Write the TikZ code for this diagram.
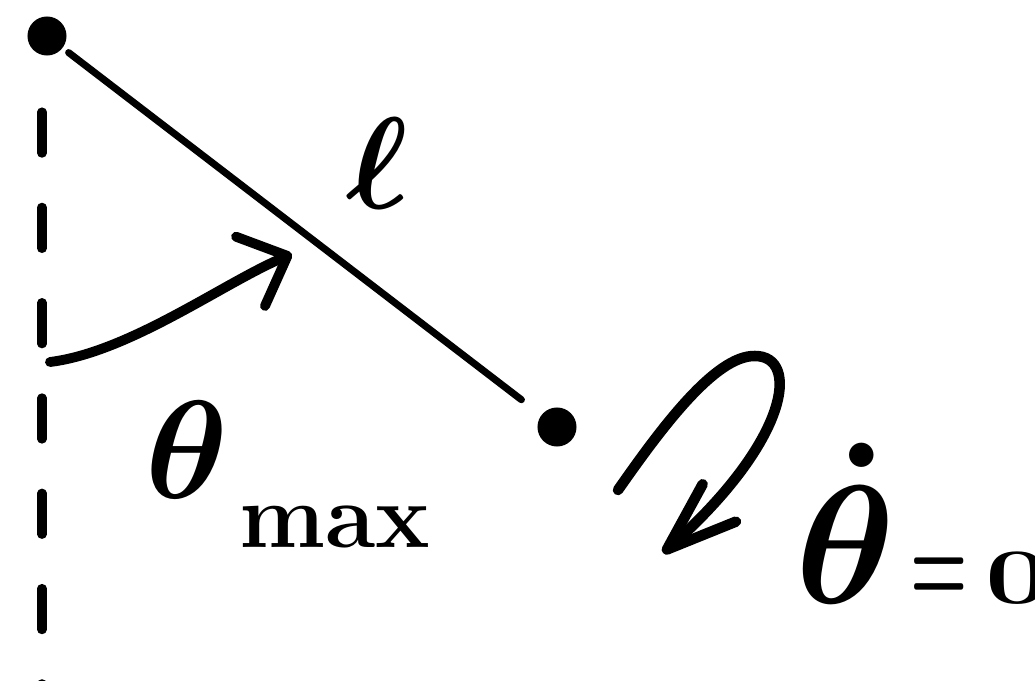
\documentclass[tikz,border=0pt]{standalone}
\usepackage{amsmath}
\usepackage{graphicx}
\usepackage{tikz}
\usetikzlibrary{arrows.meta}

\begin{document}
\begin{tikzpicture}[
  x=0.01cm, y=-0.01cm,
  line cap=round, line join=round,
  bob/.style={circle,fill,inner sep=0pt,minimum size=0.39cm},
  rod/.style={line width=2pt,shorten <=2pt,shorten >=7pt},
  vert/.style={line width=2.6pt,dash pattern=on 11.7pt off 15.4pt},
  arr/.style={line width=2.8pt,-{Straight Barb[length=0.4cm,width=0.75cm,round]}},
  spin/.style={line width=3pt,-{Straight Barb[length=0.7cm,width=0.5cm,round]}},
  hand/.style={inner sep=0pt,font=\Huge\boldmath},
]
\useasboundingbox (0,0) rectangle (1035,681);

% pendulum
\node[bob] (pivot) at (47,36) {};
\node[bob] (mass) at (557,427) {};
\draw[rod] (pivot) -- (mass);
\coordinate (vtop) at (42,112);
\coordinate (vbot) at (42,700);
\draw[vert] (vtop) -- (vbot);
\node[hand] (len) at (377,163) {\scalebox{1.49}{$\ell$}};

% swing angle
\coordinate (a0) at (50,362);
\coordinate (a1) at (292,254);
\draw[arr] (a0) .. controls +(80,-10) and +(-67,28) .. (a1);
\node[hand,anchor=base west] (thmax) at (145,498)
  {\scalebox{1.6}{$\theta$}\hspace{3pt}\raisebox{-14pt}{\scalebox{1.05}{\textbf{max}}}};

% at rest: no spin
\coordinate (s0) at (618,490);
\coordinate (stop) at (755,356);
\coordinate (s1) at (663,553);
\draw[spin] (s0) .. controls +(42,-60) and +(-40,-1) .. (stop)
  .. controls +(45,0) and +(127,-113) .. (s1);
\node[hand,anchor=base west] (thdot) at (795,603)
  {\scalebox{1.93}{$\dot\theta$}\hspace{4pt}\scalebox{0.75}[1.35]{$=$}\hspace{5pt}\scalebox{1.3}[0.9]{$0$}};
\end{tikzpicture}
\end{document}
